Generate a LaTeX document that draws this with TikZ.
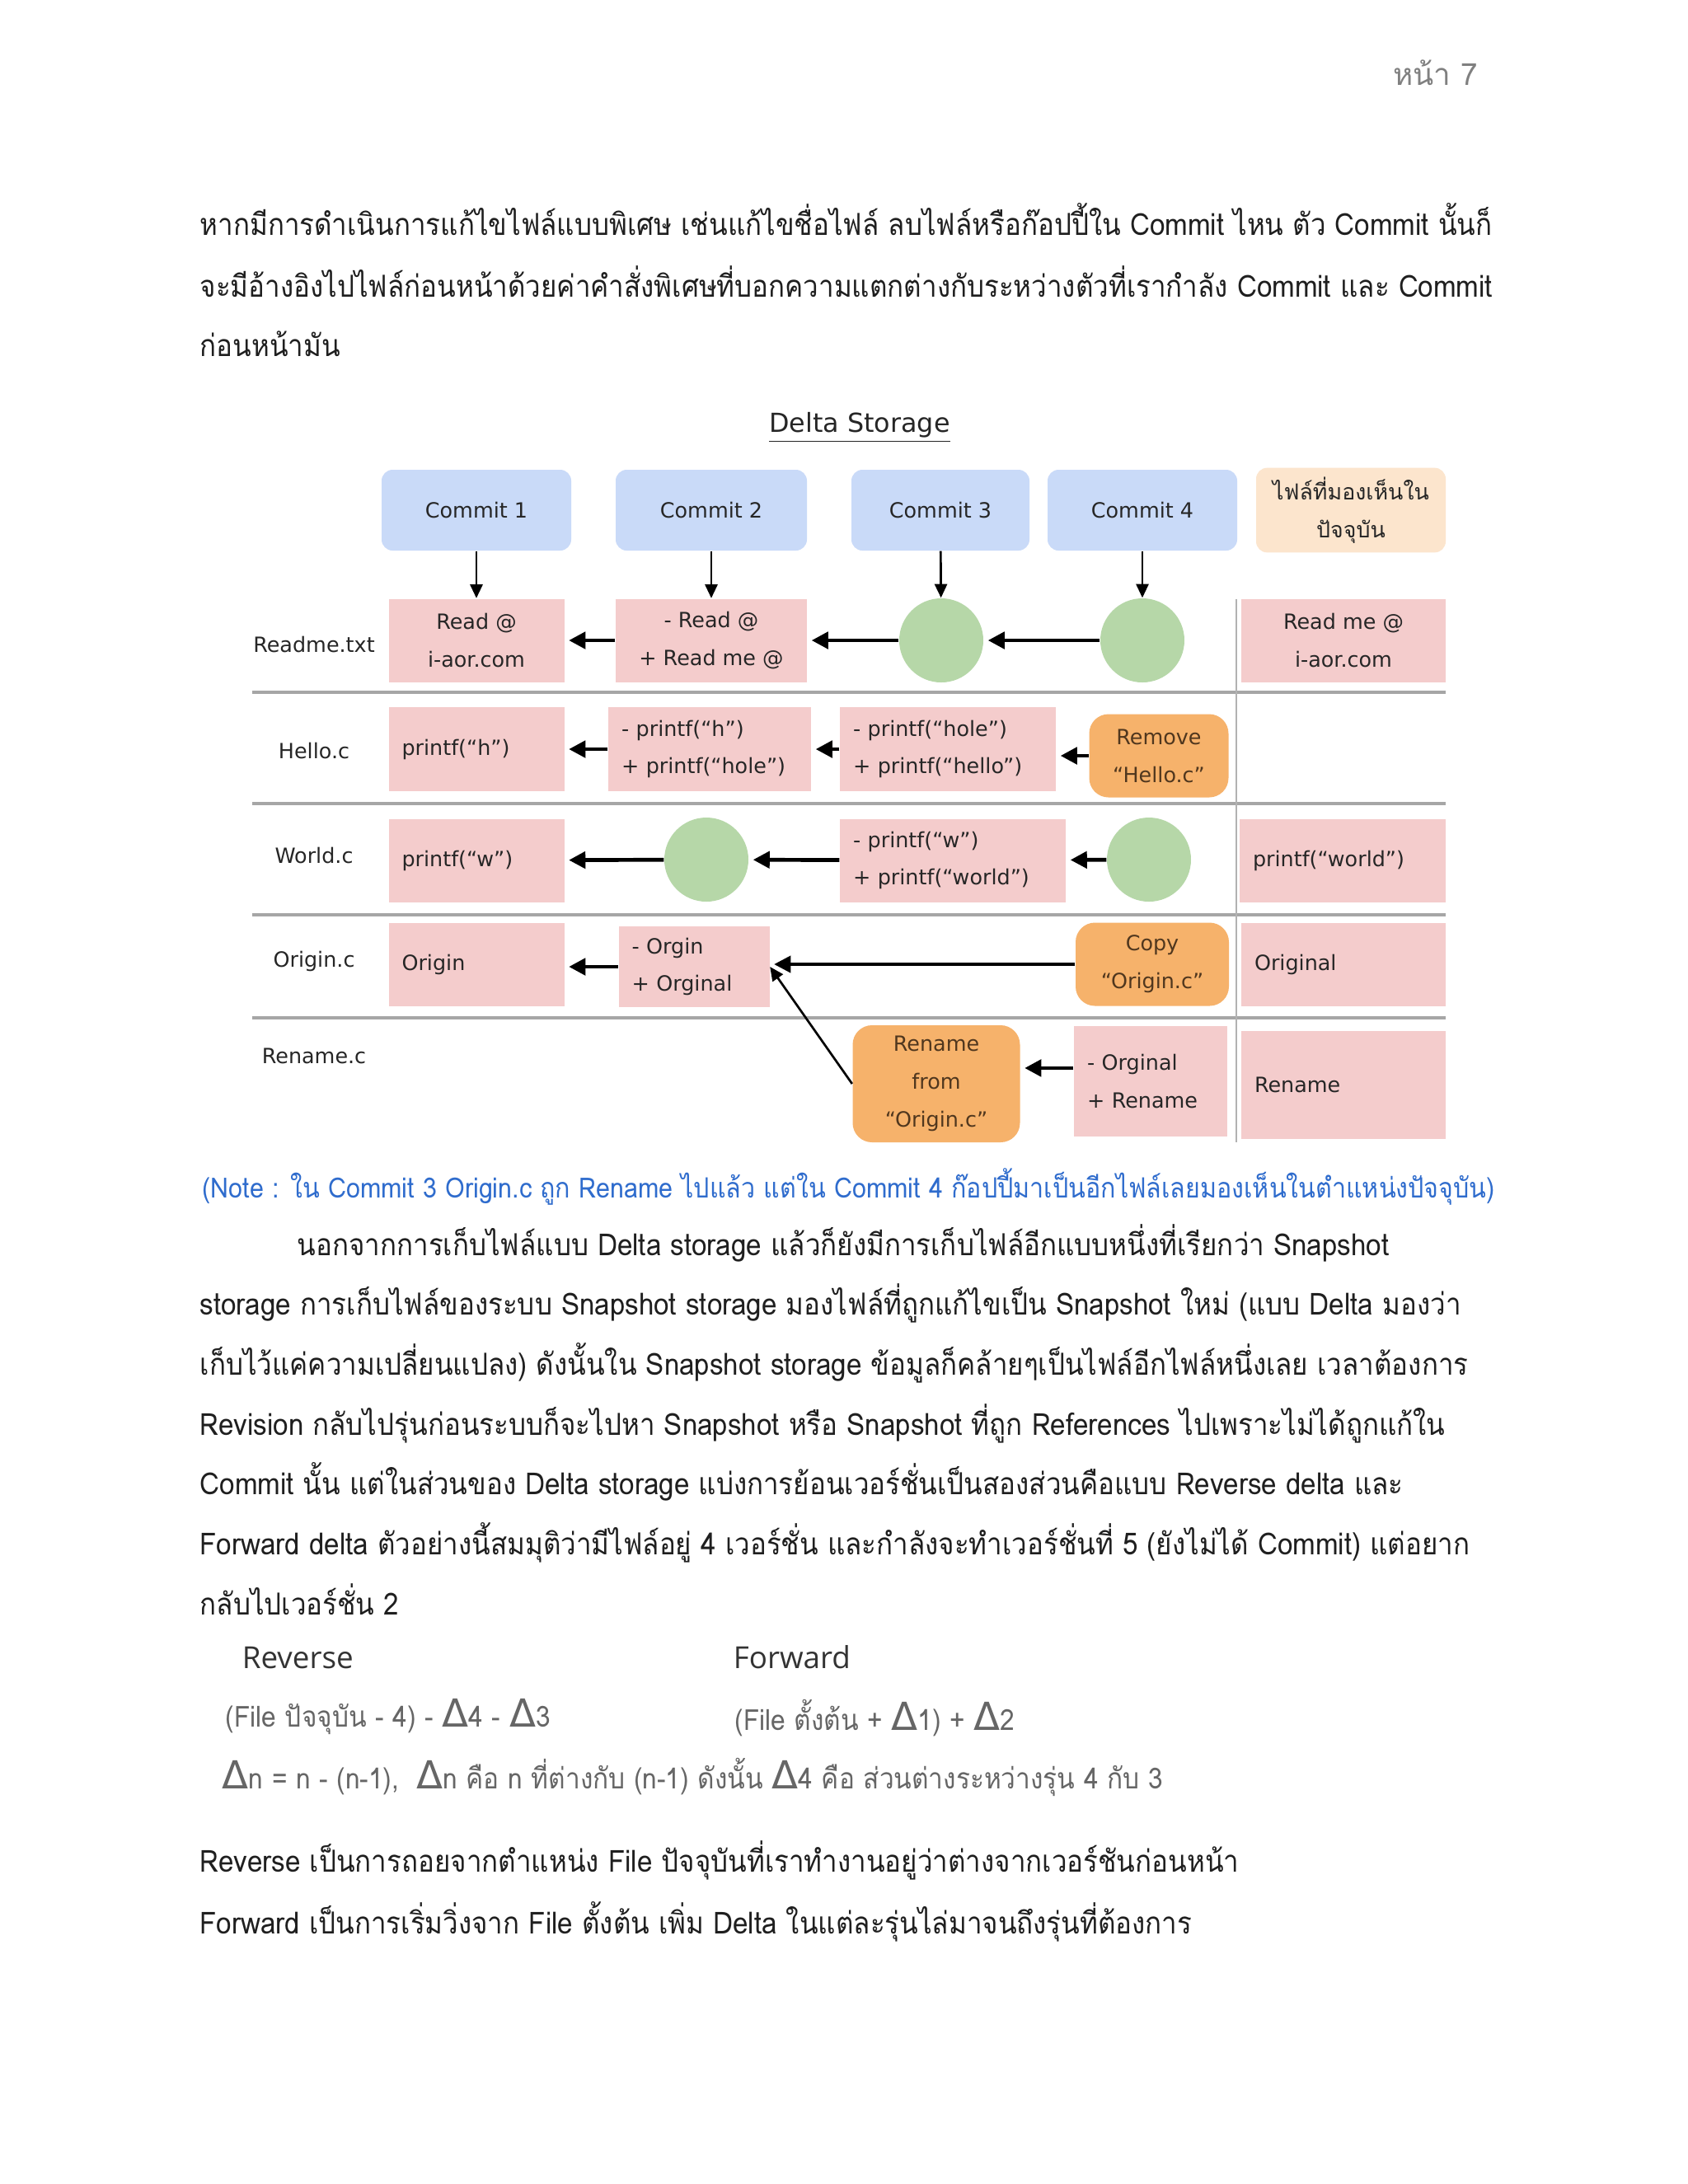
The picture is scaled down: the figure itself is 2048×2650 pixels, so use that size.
\documentclass[tikz,border=0pt]{standalone}
\usepackage{fontspec}
\usetikzlibrary{arrows.meta,positioning}
\newfontfamily\thai[Script=Thai,FakeStretch=0.9]{Loma}
\newfontfamily\thaihd[Script=Thai]{Loma}
\newfontfamily\dv{DejaVu Sans}
\newfontfamily\osans{Open Sans}
\newcommand\dfont{\dv\fontsize{7.6}{13.7}\selectfont}
\newcommand\tfont{\thai\fontsize{11}{14}\selectfont}
\newcommand\dlt{{\dv\fontsize{14}{14}\selectfont Δ}}
\def\pxl{0.2988pt}
\tikzset{
  cbox/.style={fill=\cmt, rounded corners=4pt, minimum width=#1*\pxl,
    minimum height=98*\pxl, font=\dfont, text=black!85},
  sbox/.style 2 args={fill=\pnk, minimum width=#1*\pxl, minimum height=#2*\pxl,
    align=center, font=\dfont, text=black!85},
  dbox/.style 2 args={fill=\pnk, text width=(#1-32)*\pxl, inner xsep=16*\pxl,
    minimum height=#2*\pxl, align=left, font=\dfont, text=black!85},
  obox/.style 2 args={fill=\org, rounded corners=7pt, minimum width=#1*\pxl,
    minimum height=#2*\pxl, align=center, font=\dfont, text=\brn},
  cir/.style={circle, fill=\grn, minimum size=102*\pxl, inner sep=0pt},
  harr/.style={-{Triangle[length=6pt,width=6pt]}, line width=1.4pt, shorten >=1.5pt},
  varr/.style={-{Triangle[length=5pt,width=4.5pt]}, line width=0.8pt},
  sep/.style={draw=gray!70, line width=1.3pt},
  body/.style={anchor=base west, font=\tfont, text=black!88, inner sep=0pt},
  frm/.style={anchor=base west, font=\thai\fontsize{10.5}{13}\selectfont, text=black!60}
}
\begin{document}
\begin{tikzpicture}[x=0.2988pt,y=-0.2988pt]
  \def\cmt{rgb,255:red,201;green,218;blue,248}
  \def\pch{rgb,255:red,252;green,229;blue,205}
  \def\pnk{rgb,255:red,244;green,204;blue,204}
  \def\grn{rgb,255:red,182;green,215;blue,168}
  \def\org{rgb,255:red,246;green,178;blue,107}
  \def\brn{rgb,255:red,80;green,55;blue,30}
  \def\nte{rgb,255:red,47;green,108;blue,205}
  \fill[white] (0,0) rectangle (2048,2650);
  \useasboundingbox (0,0) rectangle (2048,2650);

  \node[anchor=base east, font=\thaihd\fontsize{11}{13}\selectfont, text=gray] (pg) at (1805,103) {หน้า 7};

  \foreach \x/\y/\t [count=\i] in {
    242/285/{หากมีการดำเนินการแก้ไขไฟล์แบบพิเศษ เช่นแก้ไขชื่อไฟล์ ลบไฟล์หรือก๊อปปี้ใน Commit ไหน ตัว Commit นั้นก็},
    242/360/{จะมีอ้างอิงไปไฟล์ก่อนหน้าด้วยค่าคำสั่งพิเศษที่บอกความแตกต่างกับระหว่างตัวที่เรากำลัง Commit และ Commit},
    242/432/{ก่อนหน้ามัน},
    360/1523/{นอกจากการเก็บไฟล์แบบ Delta storage แล้วก็ยังมีการเก็บไฟล์อีกแบบหนึ่งที่เรียกว่า Snapshot},
    242/1595/{storage การเก็บไฟล์ของระบบ Snapshot storage มองไฟล์ที่ถูกแก้ไขเป็น Snapshot ใหม่ (แบบ Delta มองว่า},
    242/1668/{เก็บไว้แค่ความเปลี่ยนแปลง) ดังนั้นใน Snapshot storage ข้อมูลก็คล้ายๆเป็นไฟล์อีกไฟล์หนึ่งเลย เวลาต้องการ},
    242/1741/{Revision กลับไปรุ่นก่อนระบบก็จะไปหา Snapshot หรือ Snapshot ที่ถูก References ไปเพราะไม่ได้ถูกแก้ใน},
    242/1813/{Commit นั้น แต่ในส่วนของ Delta storage แบ่งการย้อนเวอร์ชั่นเป็นสองส่วนคือแบบ Reverse delta และ},
    242/1886/{Forward delta ตัวอย่างนี้สมมุติว่ามีไฟล์อยู่ 4 เวอร์ชั่น และกำลังจะทำเวอร์ชั่นที่ 5 (ยังไม่ได้ Commit) แต่อยาก},
    242/1959/{กลับไปเวอร์ชั่น 2},
    242/2271/{Reverse เป็นการถอยจากตำแหน่ง File ปัจจุบันที่เราทำงานอยู่ว่าต่างจากเวอร์ชันก่อนหน้า},
    242/2346/{Forward เป็นการเริ่มวิ่งจาก File ตั้งต้น เพิ่ม Delta ในแต่ละรุ่นไล่มาจนถึงรุ่นที่ต้องการ}} {
    \node[body] (t\i) at (\x,\y) {\t};
  }
  \node[body, text=\nte, font=\thai\fontsize{10.1}{13}\selectfont] (note) at (245,1453) {(Note : ใน Commit 3 Origin.c ถูก Rename ไปแล้ว แต่ใน Commit 4 ก๊อปปี้มาเป็นอีกไฟล์เลยมองเห็นในตำแหน่งปัจจุบัน)};

  % diagram
  \node[font=\dv\fontsize{9.5}{11}\selectfont, text=black!85] (title) at (1043,519) {\underline{Delta Storage}};
  \foreach \x/\w [count=\i] in {578/230, 863/232, 1141/216, 1386/230} {
    \node[cbox=\w] (c\i) at (\x,619) {Commit \i};
  }
  \node[cbox=230, fill=\pch, align=center, font=\thaihd\fontsize{8}{13.7}\selectfont] (cur) at (1639,619) {ไฟล์ที่มองเห็นใน\\ปัจจุบัน};

  \foreach \t/\y [count=\i] in {Readme.txt/782, Hello.c/911, World.c/1038, Origin.c/1166, Rename.c/1281} {
    \node[font=\dfont, text=black!85] (f\i) at (381,\y) {\t};
  }
  \foreach \y in {840,975,1110,1235} {
    \draw[sep] (306,\y) -- (1754,\y);
  }
  \draw[gray!60, line width=0.7pt] (1500,727) -- (1500,1386);

  \node[sbox={213}{101}] (a1) at (578,777) {Read @\\i-aor.com};
  \node[sbox={232}{101}] (a2) at (863,777) {- Read @\\+ Read me @};
  \node[cir] (a3) at (1142,777) {};
  \node[cir] (a4) at (1386,777) {};
  \node[sbox={248}{101}] (a5) at (1630,777) {Read me @\\i-aor.com};

  \node[dbox={213}{102}] (b1) at (578,909) {printf(“h”)};
  \node[dbox={246}{102}] (b2) at (861,909) {- printf(“h”)\\+ printf(“hole”)};
  \node[dbox={262}{102}] (b3) at (1150,909) {- printf(“hole”)\\+ printf(“hello”)};
  \node[obox={169}{101}] (b4) at (1406,917) {Remove\\“Hello.c”};

  \node[dbox={213}{101}] (w1) at (578,1044) {printf(“w”)};
  \node[cir] (w2) at (857,1043) {};
  \node[dbox={274}{101}] (w3) at (1156,1044) {- printf(“w”)\\+ printf(“world”)};
  \node[cir] (w4) at (1394,1043) {};
  \node[dbox={250}{101}] (w5) at (1629,1044) {printf(“world”)};

  \node[dbox={213}{101}] (o1) at (578,1170) {Origin};
  \node[dbox={183}{98}] (o2) at (842,1173) {- Orgin\\+ Orginal};
  \node[obox={186}{101}] (o3) at (1398,1170) {Copy\\“Origin.c”};
  \node[dbox={248}{101}] (o4) at (1630,1170) {Original};

  \node[obox={203}{142}] (r1) at (1136,1315) {Rename\\from\\“Origin.c”};
  \node[dbox={186}{134}] (r2) at (1396,1312) {- Orginal\\+ Rename};
  \node[dbox={248}{131}] (r3) at (1630,1316) {Rename};

  \foreach \i/\t in {1/a1, 2/a2, 3/a3, 4/a4} {
    \draw[varr] (c\i) -- (\t);
  }
  \foreach \s/\t in {a2/a1, a3/a2, a4/a3, b2/b1, b3/b2, w2/w1, w3/w2, w4/w3} {
    \draw[harr] (\s) -- (\t);
  }
  \draw[harr] (b4.west) -- (b4.west -| b3.east);
  \draw[harr] (o2.west) -- (o2.west -| o1.east);
  \draw[harr, line width=1.1pt] (o3.west) -- (o3.west -| o2.east);
  \draw[harr] ([yshift=4.8pt]r2.west) -- ([yshift=4.8pt]r2.west -| r1.east);
  \draw[varr] (r1.west) -- (o2.east);

  % reverse / forward
  \node[anchor=base west, font=\osans\fontsize{11}{13}\selectfont, text=black!80] (rev) at (282,2024) {Reverse};
  \node[anchor=base west, font=\osans\fontsize{11}{13}\selectfont, text=black!80] (fwd) at (878,2024) {Forward};
  \node[frm] (frev) at (262,2095) {(File ปัจจุบัน - 4) - \dlt4 - \dlt3};
  \node[frm] (ffwd) at (880,2099) {(File ตั้งต้น + \dlt1) + \dlt2};
  \node[frm] (fdef) at (258,2170) {\dlt n = n - (n-1), \ \dlt n คือ n ที่ต่างกับ (n-1) ดังนั้น \dlt4 คือ ส่วนต่างระหว่างรุ่น 4 กับ 3};
\end{tikzpicture}
\end{document}
